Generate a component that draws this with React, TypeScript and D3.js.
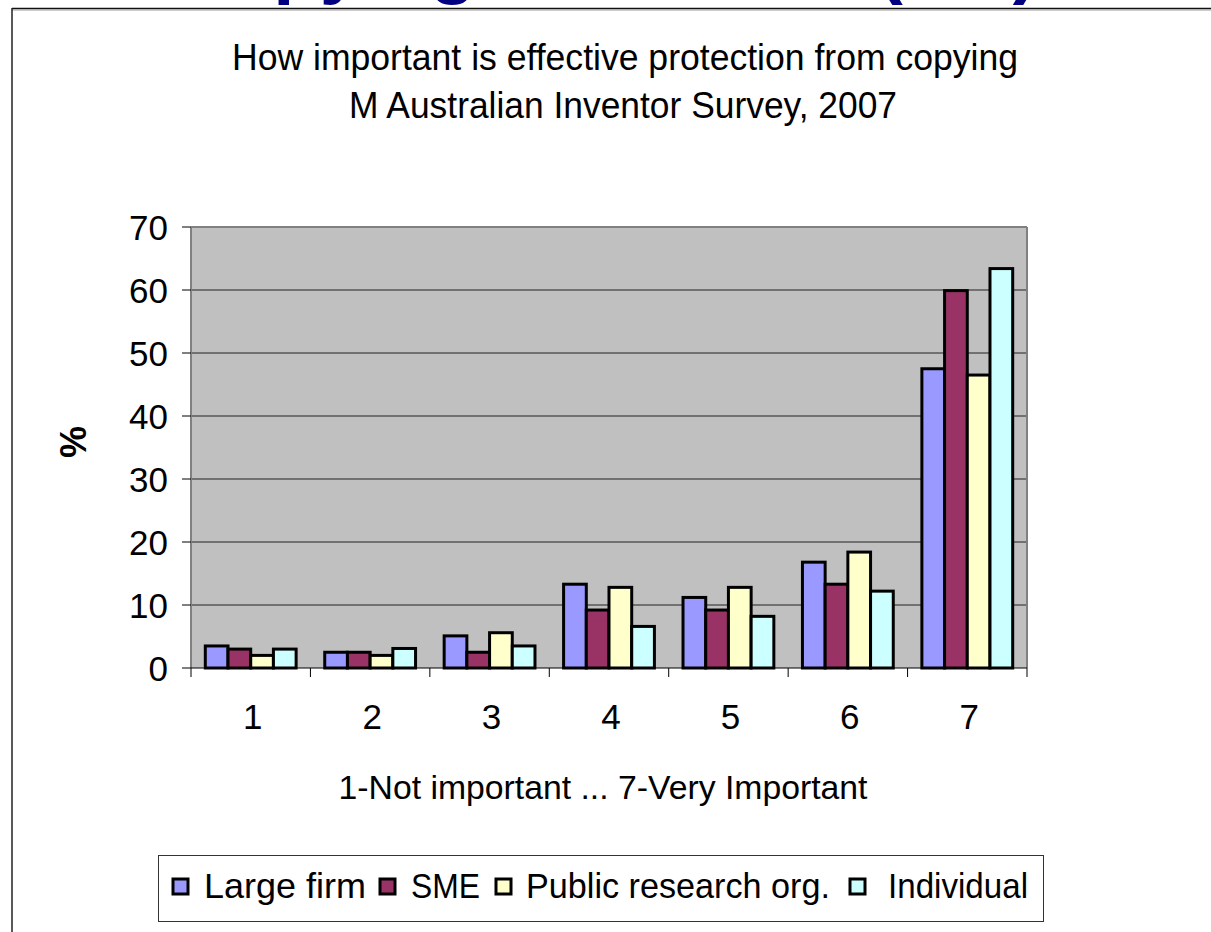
import React from "react";
import * as d3 from "d3";

const categories = ["1", "2", "3", "4", "5", "6", "7"];
const seriesNames = ["Large firm", "SME", "Public research org.", "Individual"];
const largeFirm = [3.5, 2.5, 5.1, 13.3, 11.2, 16.8, 47.5];
const sme = [3.0, 2.5, 2.5, 9.2, 9.2, 13.3, 59.9];
const publicResearch = [2.0, 2.0, 5.6, 12.8, 12.8, 18.4, 46.5];
const individual = [3.0, 3.1, 3.5, 6.6, 8.2, 12.2, 63.4];
const seriesColors = ["#9999FF", "#993366", "#FFFFCC", "#CCFFFF"];
const yTicks = [0, 10, 20, 30, 40, 50, 60, 70];

const titleLine1 = "How important is effective protection from copying";
const titleLine2 = "M Australian Inventor Survey, 2007";
const xAxisTitle = "1-Not important ... 7-Very Important";
const yAxisTitle = "%";
const slideHeading = "Copying is a threat (AU)";

const FONT = "'Liberation Sans', Arial, Helvetica, sans-serif";

export default function App() {
  const W = 1211;
  const H = 932;
  const plot = { left: 191, right: 1027, top: 227, bottom: 668 };

  const x0 = d3.scaleBand<string>().domain(categories).range([plot.left, plot.right]).padding(0);
  const x1 = d3
    .scaleBand<string>()
    .domain(seriesNames)
    .range([0, x0.bandwidth()])
    .paddingInner(0)
    .paddingOuter(0.63);
  const y = d3.scaleLinear().domain([0, 70]).range([plot.bottom, plot.top]);

  const seriesData = [largeFirm, sme, publicResearch, individual];

  const boundaries = categories.map((c) => x0(c) as number).concat([plot.right]);

  const legendSquares = [173, 380, 496, 850];
  const legendTextX = [204, 411, 526, 888];
  const legendTextW = [162, 69, 304, 140];

  return (
    <svg
      width={W}
      height={H}
      style={{ position: "absolute", left: 0, top: 0, background: "#fff" }}
      fontFamily={FONT}
    >
      <rect x={0} y={0} width={W} height={H} fill="#fff" />
      {/* slide heading clipped at top */}
      <text
        x={605}
        y={-11}
        textAnchor="middle"
        fontSize={76}
        fontWeight="bold"
        fill="#000080"
        textLength={866}
        lengthAdjust="spacingAndGlyphs"
      >
        {slideHeading}
      </text>
      {/* frame */}
      <line x1={12} x2={W} y1={8.5} y2={8.5} stroke="#111" strokeWidth={1.5} />
      <line x1={12} x2={W} y1={10} y2={10} stroke="#999" strokeWidth={1} />
      <line x1={12} x2={12} y1={8} y2={H} stroke="#222" strokeWidth={1.5} />

      {/* titles */}
      <text x={625} y={70} textAnchor="middle" fontSize={36} textLength={786} lengthAdjust="spacingAndGlyphs">
        {titleLine1}
      </text>
      <text x={623} y={118} textAnchor="middle" fontSize={36} textLength={548} lengthAdjust="spacingAndGlyphs">
        {titleLine2}
      </text>

      {/* plot area */}
      <rect
        x={plot.left}
        y={plot.top}
        width={plot.right - plot.left}
        height={plot.bottom - plot.top}
        fill="#C0C0C0"
      />
      {yTicks
        .filter((t) => t > 0 && t < 70)
        .map((t) => (
          <line key={"g" + t} x1={plot.left} x2={plot.right} y1={y(t)} y2={y(t)} stroke="#222" strokeWidth={1} />
        ))}
      <line x1={plot.left} x2={plot.right} y1={plot.top} y2={plot.top} stroke="#808080" strokeWidth={2} />
      <line x1={plot.right} x2={plot.right} y1={plot.top} y2={plot.bottom} stroke="#808080" strokeWidth={2} />
      <line x1={plot.left} x2={plot.left} y1={plot.top} y2={plot.bottom} stroke="#808080" strokeWidth={2} />

      {/* bars */}
      {categories.map((c, ci) => (
        <g key={c} transform={`translate(${x0(c)},0)`}>
          {seriesNames.map((s, si) => {
            const v = seriesData[si][ci];
            return (
              <rect
                key={s}
                x={x1(s) as number}
                y={y(v)}
                width={x1.bandwidth()}
                height={y(0) - y(v)}
                fill={seriesColors[si]}
                stroke="#000"
                strokeWidth={3}
              />
            );
          })}
        </g>
      ))}

      {/* axes */}
      <line x1={plot.left} x2={plot.right} y1={plot.bottom} y2={plot.bottom} stroke="#000" strokeWidth={1} />
      {yTicks.map((t) => (
        <g key={"t" + t}>
          <line x1={182} x2={plot.left} y1={y(t)} y2={y(t)} stroke="#000" strokeWidth={1} />
          <text x={168} y={y(t) + 12.5} textAnchor="end" fontSize={35}>
            {t}
          </text>
        </g>
      ))}
      {boundaries.map((bx, i) => (
        <line key={"xt" + i} x1={bx} x2={bx} y1={plot.bottom} y2={plot.bottom + 9} stroke="#000" strokeWidth={1} />
      ))}
      {categories.map((c) => (
        <text key={"xl" + c} x={(x0(c) as number) + x0.bandwidth() / 2 + 2} y={729} textAnchor="middle" fontSize={35}>
          {c}
        </text>
      ))}
      <text x={603} y={799} textAnchor="middle" fontSize={34} textLength={529} lengthAdjust="spacingAndGlyphs">
        {xAxisTitle}
      </text>
      <text
        transform="translate(86,442) rotate(-90)"
        textAnchor="middle"
        fontSize={36}
        fontWeight="bold"
      >
        {yAxisTitle}
      </text>

      {/* legend */}
      <rect x={158.5} y={855.5} width={885} height={66} fill="#fff" stroke="#333" strokeWidth={1} />
      {seriesNames.map((s, i) => (
        <g key={"lg" + s}>
          <rect
            x={legendSquares[i]}
            y={879}
            width={15}
            height={15}
            fill={seriesColors[i]}
            stroke="#000"
            strokeWidth={3}
          />
          <text
            x={legendTextX[i]}
            y={898}
            fontSize={35}
            textLength={legendTextW[i]}
            lengthAdjust="spacingAndGlyphs"
          >
            {s}
          </text>
        </g>
      ))}
    </svg>
  );
}
